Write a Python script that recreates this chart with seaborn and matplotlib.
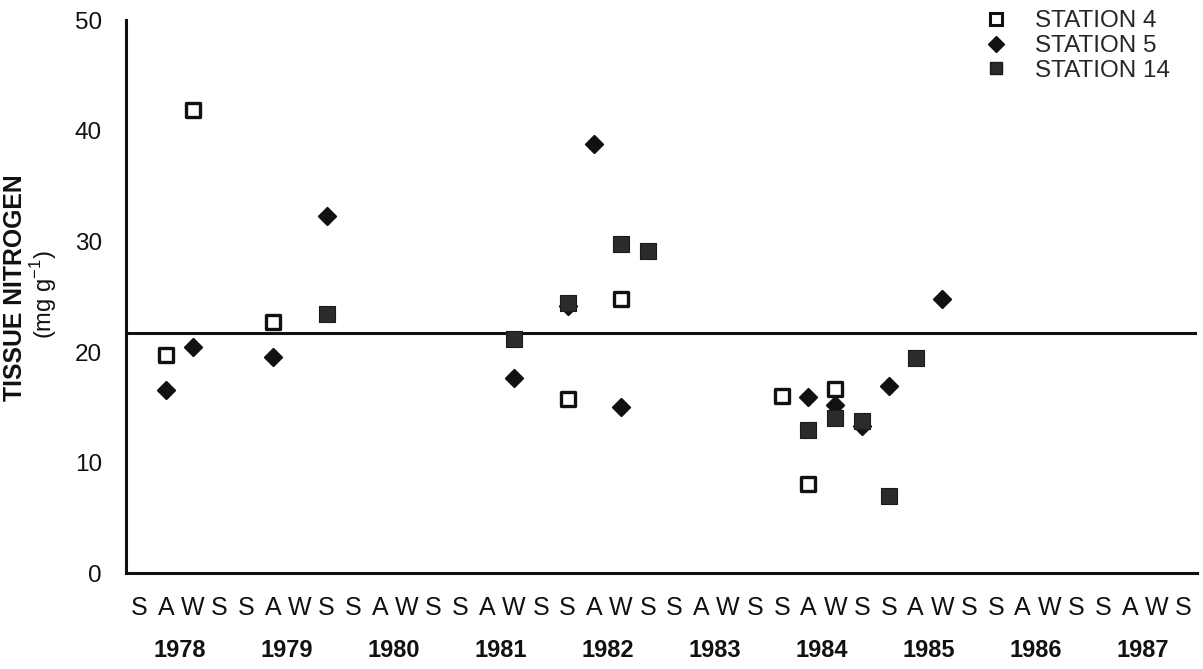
import matplotlib
matplotlib.use("Agg")
import matplotlib.pyplot as plt
from matplotlib.lines import Line2D
import seaborn as sns
import pandas as pd
import numpy as np

# Seasons within each year: Summer, Autumn, Winter, Spring
seasons = ["S", "A", "W", "S"]
years = [1978, 1979, 1980, 1981, 1982, 1983, 1984, 1985, 1986, 1987]

# Tissue nitrogen (mg g-1) per station, by year and season index
st4_year = [1978, 1978, 1979, 1982, 1982, 1984, 1984, 1984]
st4_season = [1, 2, 1, 0, 2, 0, 1, 2]
st4_n = [19.7, 41.9, 22.7, 15.8, 24.8, 16.0, 8.1, 16.7]

st5_year = [1978, 1978, 1979, 1979, 1981, 1982, 1982, 1982, 1984, 1984, 1984, 1985, 1985]
st5_season = [1, 2, 1, 3, 2, 0, 1, 2, 1, 2, 3, 0, 2]
st5_n = [16.6, 20.5, 19.6, 32.3, 17.7, 24.2, 38.8, 15.0, 15.9, 15.2, 13.3, 16.9, 24.8]

st14_year = [1979, 1981, 1982, 1982, 1982, 1984, 1984, 1984, 1985, 1985]
st14_season = [3, 2, 0, 2, 3, 1, 2, 3, 0, 1]
st14_n = [23.4, 21.2, 24.4, 29.8, 29.1, 13.0, 14.0, 13.8, 7.0, 19.5]

overall_mean = 21.7


def frame(yrs, seas, vals, name):
    df = pd.DataFrame({"year": yrs, "season": seas, "nitrogen": vals})
    df["t"] = (df["year"] - years[0]) + (df["season"] + 0.5) / 4.0
    df["station"] = name
    return df


d4 = frame(st4_year, st4_season, st4_n, "STATION 4")
d5 = frame(st5_year, st5_season, st5_n, "STATION 5")
d14 = frame(st14_year, st14_season, st14_n, "STATION 14")

sns.set_style("white")
plt.rcParams["font.family"] = ["Liberation Sans", "DejaVu Sans"]

fig = plt.figure(figsize=(12.03, 6.69), dpi=100)
ax = fig.add_axes([0.1045, 0.143, 0.8903, 0.8267])

ink = "#111111"
sns.scatterplot(data=d5, x="t", y="nitrogen", marker="D", s=78, color=ink,
                edgecolor=ink, linewidth=1.4, ax=ax, zorder=3, legend=False)
sns.scatterplot(data=d14, x="t", y="nitrogen", marker="s", s=118, color="#2b2b2b",
                edgecolor="#1a1a1a", linewidth=0.8, ax=ax, zorder=4, legend=False)
sns.scatterplot(data=d4, x="t", y="nitrogen", marker="s", s=90, color="white",
                edgecolor=ink, linewidth=2.4, ax=ax, zorder=5, legend=False)

ax.axhline(overall_mean, color=ink, lw=2.2, zorder=2)

ax.set_xlim(0, len(years))
ax.set_ylim(0, 50)
ax.set_xlabel("")
ax.set_ylabel("")

for side in ["top", "right"]:
    ax.spines[side].set_visible(False)
for side in ["left", "bottom"]:
    ax.spines[side].set_linewidth(2.2)
    ax.spines[side].set_color(ink)

ax.set_yticks(np.arange(0, 51, 10))
ax.tick_params(axis="y", direction="out", length=12, width=2, colors=ink,
               labelsize=17.5, pad=5)
ax.set_xticks(np.arange(0, len(years) + 1))
ax.set_xticks([y + q / 4 for y in range(len(years)) for q in (1, 2, 3)], minor=True)
ax.tick_params(axis="x", which="major", direction="out", length=20, width=2,
               colors=ink, labelbottom=False)
ax.tick_params(axis="x", which="minor", direction="out", length=11, width=2,
               colors=ink)

trans = ax.get_xaxis_transform()
for i, yr in enumerate(years):
    for q, s in enumerate(seasons):
        ax.text(i + (q + 0.5) / 4, -0.062, s, transform=trans, ha="center",
                va="center", fontsize=18, color=ink)
    ax.text(i + 0.5, -0.139, str(yr), transform=trans, ha="center",
            va="center", fontsize=17, fontweight="bold", color=ink)

ax.text(-0.1035, 0.516, "TISSUE NITROGEN", transform=ax.transAxes, rotation=90,
        ha="center", va="center", fontsize=17.8, fontweight="bold", color=ink)
ax.text(-0.0765, 0.503, r"(mg g$^{\mathregular{-1}}$)", transform=ax.transAxes,
        rotation=90, ha="center", va="center", fontsize=17, color=ink)

handles = [
    Line2D([], [], ls="none", marker="s", ms=8.5, mfc="white", mec=ink, mew=2.2),
    Line2D([], [], ls="none", marker="D", ms=8, mfc=ink, mec=ink),
    Line2D([], [], ls="none", marker="s", ms=9, mfc="#2b2b2b", mec="#1a1a1a"),
]
ax.legend(handles, ["STATION 4", "STATION 5", "STATION 14"], loc="upper left",
          bbox_to_anchor=(0.792, 1.036), frameon=False, fontsize=17.5,
          handletextpad=1.1, labelspacing=0.12, handlelength=1.0,
          borderaxespad=0)

fig.savefig("out.png", dpi=100)
